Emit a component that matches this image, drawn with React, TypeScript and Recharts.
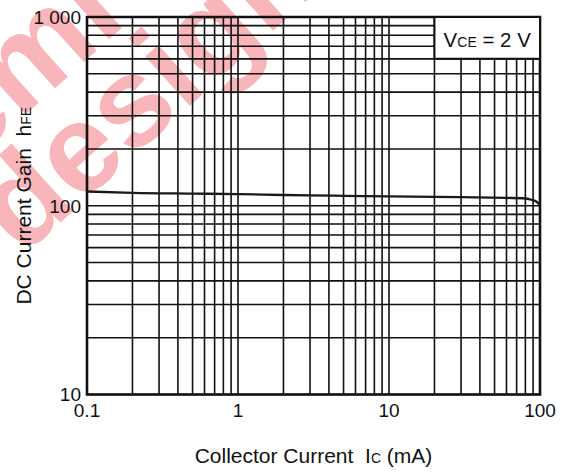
import React from 'react';
import { LineChart, Line, XAxis, YAxis, CartesianGrid, ReferenceArea } from 'recharts';

// collector current Ic (mA) and the dc current gain
const currentMA = [0.1, 0.2, 0.5, 1, 2, 3, 5, 10, 20, 30, 60, 77, 88, 95, 100];
const gainHFE = [119, 117, 116, 115.3, 114, 113.4, 112.9, 112, 111.5, 111, 110, 109.6, 107.6, 105, 101];

// log grid lines, labelled only on the decades
const xGridTicks = [0.1, 0.2, 0.3, 0.4, 0.5, 0.6, 0.7, 0.8, 0.9, 1, 2, 3, 4, 5, 6, 7, 8, 9, 10, 20, 30, 40, 50, 60, 70, 80, 90, 100];
const yGridTicks = [10, 20, 30, 40, 50, 60, 70, 80, 90, 100, 200, 300, 400, 500, 600, 700, 800, 900, 1000];
const xTickLabels: Record<string, string> = { '0.1': '0.1', '1': '1', '10': '10', '100': '100' };
const yTickLabels: Record<string, string> = { '10': '10', '100': '100', '1000': '1 000' };

const data = currentMA.map((ic, i) => ({ ic, hfe: gainHFE[i] }));

const FONT = "Arial, 'Liberation Sans', Helvetica, sans-serif";

const XTick = ({ x, y, payload }: any) => {
  const label = xTickLabels[String(payload.value)];
  if (!label) return null;
  return (
    <text x={x} y={y} dy="0.71em" textAnchor="middle" fontFamily={FONT} fontSize={19} fill="#111">
      {label}
    </text>
  );
};

const YTick = ({ x, y, payload }: any) => {
  const label = yTickLabels[String(payload.value)];
  if (!label) return null;
  return (
    <text x={x} y={y} dy="0.36em" textAnchor="end" fontFamily={FONT} fontSize={19} fill="#111">
      {label}
    </text>
  );
};

const XTitle = ({ viewBox }: any) => {
  const cx = viewBox.x + viewBox.width / 2;
  return (
    <text x={cx} y={viewBox.y + 68} textAnchor="middle" fontFamily={FONT} fontSize={21} fill="#111">
      Collector Current{'\u00a0 '}I<tspan fontSize={14}>C</tspan> (mA)
    </text>
  );
};

const YTitle = ({ viewBox }: any) => {
  const cy = viewBox.y + viewBox.height / 2;
  const bx = 31;
  return (
    <text x={bx} y={cy} transform={`rotate(-90, ${bx}, ${cy})`} textAnchor="middle" fontFamily={FONT} fontSize={21} fill="#111">
      DC Current Gain{'\u00a0 '}h<tspan fontSize={14}>FE</tspan>
    </text>
  );
};

const Condition = ({ viewBox }: any) => (
  <text x={viewBox.x + viewBox.width / 2} y={viewBox.y + 30} textAnchor="middle" fontFamily={FONT} fontSize={20.5} fill="#111">
    V<tspan fontSize={14}>CE</tspan> = 2 V
  </text>
);

const Watermark = () => (
  <svg width={572} height={473} style={{ position: 'absolute', left: 0, top: 0 }}>
    <g fill="#f8b6ba" fontFamily={FONT} fontWeight="bold" fontSize={126}>
      <text x={-85} y={214} transform="rotate(-42, -85, 214)">semi</text>
      <text x={22} y={257} transform="rotate(-42, 22, 257)">design</text>
    </g>
  </svg>
);

export default function App() {
  return (
    <div style={{ position: 'absolute', left: 0, top: 0, width: 572, height: 473, background: '#fff', overflow: 'hidden' }}>
      <Watermark />
      <div style={{ position: 'absolute', left: 0, top: 0 }}>
        <LineChart width={572} height={473} data={data} margin={{ top: 17, right: 32, bottom: 8.5, left: 0 }}>
          <CartesianGrid stroke="#111" strokeWidth={1.6} />
          <XAxis
            dataKey="ic"
            type="number"
            scale="log"
            domain={[0.1, 100]}
            ticks={xGridTicks}
            interval={0}
            allowDataOverflow
            axisLine={false}
            tickLine={false}
            tickSize={7}
            tickMargin={2}
            height={70}
            tick={<XTick />}
            label={<XTitle />}
          />
          <YAxis
            type="number"
            scale="log"
            domain={[10, 1000]}
            ticks={yGridTicks}
            interval={0}
            allowDataOverflow
            axisLine={false}
            tickLine={false}
            tickSize={4}
            tickMargin={2}
            width={87}
            tick={<YTick />}
            label={<YTitle />}
          />
          <ReferenceArea x1={0.1} x2={100} y1={10} y2={1000} fill="none" stroke="#111" strokeWidth={2.6} ifOverflow="visible" />
          <ReferenceArea
            x1={20}
            x2={100}
            y1={600}
            y2={1000}
            fill="#fff"
            fillOpacity={1}
            stroke="#111"
            strokeWidth={2}
            ifOverflow="visible"
            label={<Condition />}
          />
          <Line
            type="monotone"
            dataKey="hfe"
            stroke="#1a1a1a"
            strokeWidth={2.3}
            dot={false}
            isAnimationActive={false}
          />
        </LineChart>
      </div>
    </div>
  );
}
